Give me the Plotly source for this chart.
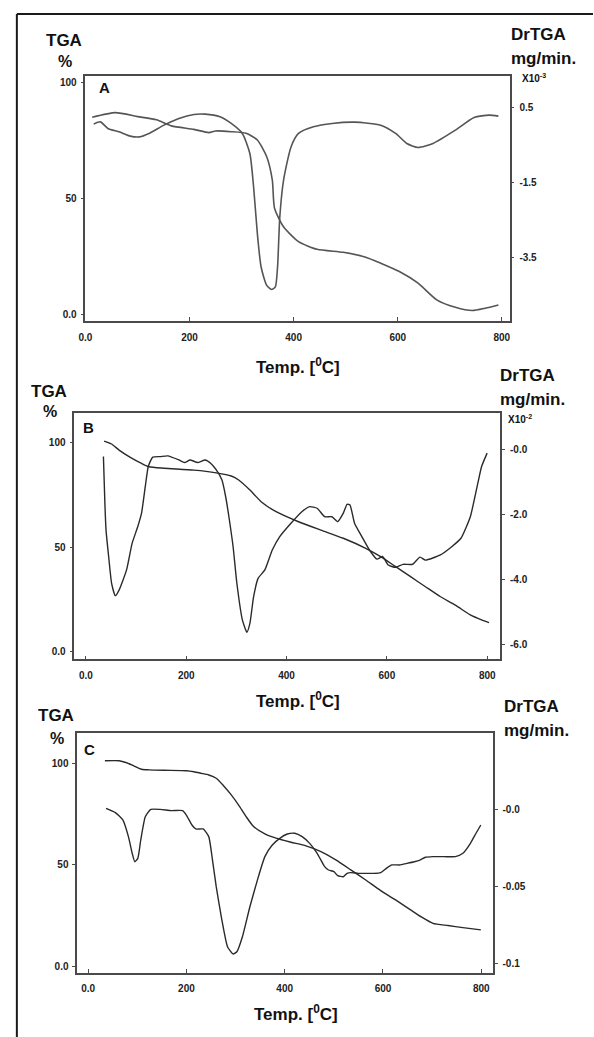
import plotly.graph_objects as go

W, H = 594, 1037

# ---------------- Panel A ----------------
a_tga_t = [13.0, 57.5, 100.6, 136.5, 165.2, 208.3, 236.9, 250.0, 280.1, 308.7, 330.3, 348.3, 359.0, 363.3,
           380.6, 409.4, 445.2, 495.4, 538.5, 567.3, 603.1, 639.1, 674.9, 710.7, 743.2, 768.2, 793.4]
a_tga = [85.2, 87.2, 85.5, 84.1, 81.5, 80.0, 78.6, 79.3, 79.0, 78.3, 75.4, 68.2, 58.2, 46.0,
         38.0, 31.6, 28.3, 27.0, 24.9, 22.3, 18.7, 13.7, 6.5, 3.3, 1.9, 2.9, 4.3]
a_dtg_t = [15.9, 28.8, 43.2, 64.7, 86.2, 104.2, 122.1, 150.8, 179.5, 208.3, 229.9, 258.5, 280.1, 301.5,
           315.9, 323.1, 330.3, 337.5, 348.3, 357.6, 364.8, 369.1, 373.4, 380.6, 395.0, 409.4, 438.0,
           473.9, 517.0, 567.3, 595.9, 617.5, 639.1, 667.7, 710.7, 746.7, 775.4, 793.4]
a_dtg = [0.047, 0.108, -0.068, -0.158, -0.273, -0.292, -0.202, 0.02, 0.198, 0.305, 0.313, 0.242, 0.065, -0.202,
         -0.735, -1.625, -2.87, -3.76, -4.25, -4.36, -4.29, -3.76, -2.43, -1.45, -0.56, -0.2, -0.025,
         0.065, 0.1, 0.02, -0.2, -0.468, -0.575, -0.468, -0.113, 0.225, 0.287, 0.26]

# ---------------- Panel B ----------------
b_tga_t = [36.3, 51.2, 66.1, 88.5, 110.9, 125.8, 155.6, 215.2, 259.9, 289.7, 304.6, 326.9, 349.3, 379.1,
           423.8, 468.4, 513.1, 557.8, 587.6, 617.4, 647.2, 676.9, 706.8, 736.5, 766.3, 788.8, 803.5]
b_tga = [100.8, 99.4, 96.5, 93.0, 90.1, 88.5, 87.8, 86.9, 85.6, 84.1, 82.2, 77.4, 71.8, 67.0,
         62.2, 58.2, 54.3, 49.5, 45.5, 40.7, 35.9, 31.1, 26.3, 22.3, 17.6, 15.2, 13.9]
b_dtg_t = [34.9, 37.8, 40.1, 45.3, 51.2, 58.6, 66.1, 81.0, 92.2, 103.4, 110.9, 118.3, 124.3, 133.2, 148.1,
           163.0, 185.3, 196.5, 207.7, 222.6, 237.5, 248.6, 259.9, 271.0, 278.5, 286.0, 293.4, 300.9,
           312.0, 321.0, 326.9, 334.3, 343.2, 356.7, 371.5, 386.4, 408.8, 431.0, 446.0, 460.9, 475.9,
           490.3, 501.9, 513.1, 520.6, 526.4, 535.5, 550.1, 565.2, 580.1, 591.3, 602.6, 617.4, 632.3,
           651.0, 666.0, 676.9, 706.8, 729.2, 747.7, 766.3, 781.3, 788.8, 799.8]
b_dtg = [-0.227, -1.66, -2.48, -3.29, -4.11, -4.49, -4.32, -3.70, -2.88, -2.37, -1.96, -1.15, -0.53, -0.245, -0.227,
         -0.205, -0.33, -0.41, -0.33, -0.41, -0.33, -0.43, -0.635, -0.94, -1.45, -2.17, -2.99, -4.11,
         -5.24, -5.61, -5.34, -4.52, -3.96, -3.70, -3.09, -2.68, -2.27, -1.91, -1.76, -1.81, -2.07,
         -2.07, -2.22, -1.96, -1.69, -1.71, -2.27, -2.68, -3.09, -3.37, -3.29, -3.55, -3.62, -3.53,
         -3.53, -3.31, -3.40, -3.24, -2.99, -2.73, -2.07, -1.04, -0.53, -0.12]

# ---------------- Panel C ----------------
c_tga_t = [34.0, 62.9, 78.1, 93.4, 108.6, 123.7, 154.2, 199.8, 215.1, 230.3, 245.4, 260.6, 275.9, 291.2,
           306.2, 321.5, 336.7, 359.6, 382.3, 412.9, 443.2, 473.7, 504.0, 534.5, 564.9, 595.4, 625.7,
           656.2, 679.1, 701.8, 732.3, 762.7, 799.2]
c_tga = [101.3, 101.3, 100.3, 98.7, 97.1, 96.8, 96.6, 96.4, 95.9, 95.1, 94.3, 92.7, 88.9, 84.5,
         79.5, 73.8, 68.9, 65.3, 63.2, 61.2, 59.4, 56.6, 52.5, 47.6, 42.6, 37.4, 32.8,
         27.9, 24.3, 21.3, 20.2, 19.2, 18.1]
c_dtg_t = [36.3, 55.3, 70.5, 81.9, 89.6, 94.8, 101.0, 107.0, 116.2, 127.5, 146.6, 169.5, 192.2, 199.8,
           211.2, 218.9, 234.1, 245.4, 253.0, 260.6, 272.1, 283.5, 295.0, 302.6, 313.9, 329.1, 344.4,
           359.6, 374.7, 389.9, 405.2, 420.5, 435.5, 450.8, 466.1, 481.3, 489.0, 500.2, 507.8, 519.3,
           526.9, 534.5, 549.8, 564.9, 580.1, 595.4, 606.8, 618.3, 633.3, 648.6, 663.9, 675.3, 686.5,
           701.8, 724.7, 747.4, 762.7, 778.0, 789.4, 799.2]
c_dtg = [0.0011, -0.0017, -0.0065, -0.0174, -0.0283, -0.0338, -0.0316, -0.0196, -0.0044, 0.0004, 0.0004,
         -0.0004, -0.0004, -0.0033, -0.0098, -0.0124, -0.0124, -0.0174, -0.0327, -0.0501, -0.0719,
         -0.0893, -0.0941, -0.0926, -0.0828, -0.0632, -0.0458, -0.0305, -0.0229, -0.0185, -0.0157,
         -0.0152, -0.0174, -0.0218, -0.0283, -0.0370, -0.0392, -0.0403, -0.0429, -0.0436, -0.0414,
         -0.0409, -0.0414, -0.0414, -0.0414, -0.0409, -0.0381, -0.0359, -0.0359, -0.0349, -0.0338,
         -0.0327, -0.0309, -0.0305, -0.0305, -0.0305, -0.0283, -0.0218, -0.0152, -0.0098]

x_ticks = [0, 200, 400, 600, 800]
x_ticktext = ["0.0", "200", "400", "600", "800"]
tga_ticks = [0, 50, 100]
tga_ticktext = ["0.0", "50", "100"]
a_r_ticks = [0.5, -1.5, -3.5]
a_r_text = ["0.5", "-1.5", "-3.5"]
b_r_ticks = [0, -2, -4, -6]
b_r_text = ["-0.0", "-2.0", "-4.0", "-6.0"]
c_r_ticks = [0, -0.05, -0.1]
c_r_text = ["-0.0", "-0.05", "-0.1"]


def px(x):
    return x / W


def py(y):
    return 1 - y / H


fig = go.Figure()

lineA = dict(color="#555555", width=1.6)
lineB = dict(color="#2a2a2a", width=1.4)

fig.add_trace(go.Scatter(x=a_tga_t, y=a_tga, mode="lines", line=dict(shape="spline", smoothing=0.6, **lineA),
                         xaxis="x", yaxis="y"))
fig.add_trace(go.Scatter(x=a_dtg_t, y=a_dtg, mode="lines", line=dict(shape="spline", smoothing=0.6, **lineA),
                         xaxis="x", yaxis="y2"))
fig.add_trace(go.Scatter(x=b_tga_t, y=b_tga, mode="lines", line=dict(shape="spline", smoothing=0.6, **lineB),
                         xaxis="x2", yaxis="y3"))
fig.add_trace(go.Scatter(x=b_dtg_t, y=b_dtg, mode="lines", line=dict(shape="spline", smoothing=0.5, **lineB),
                         xaxis="x2", yaxis="y4"))
fig.add_trace(go.Scatter(x=c_tga_t, y=c_tga, mode="lines", line=dict(shape="spline", smoothing=0.6, **lineB),
                         xaxis="x3", yaxis="y5"))
fig.add_trace(go.Scatter(x=c_dtg_t, y=c_dtg, mode="lines", line=dict(shape="spline", smoothing=0.5, **lineB),
                         xaxis="x3", yaxis="y6"))

tickfont = dict(family="Liberation Sans, Arial", size=10, color="#222222", weight="bold")
axcol = "#4a4a4a"


def xax(dom, rng, anchor):
    return dict(domain=dom, range=rng, anchor=anchor, showline=True, linecolor=axcol, linewidth=1.5,
                mirror=True, ticks="inside", ticklen=4, tickcolor=axcol, tickwidth=1.2,
                tickvals=x_ticks, ticktext=x_ticktext, tickfont=tickfont, showgrid=False,
                zeroline=False, ticklabelstandoff=6)


def yl(dom, rng, anchor):
    return dict(domain=dom, range=rng, anchor=anchor, showline=True, linecolor=axcol, linewidth=1.5,
                ticks="outside", ticklen=3, tickcolor=axcol, tickwidth=1.2,
                tickvals=tga_ticks, ticktext=tga_ticktext, tickfont=tickfont, showgrid=False,
                zeroline=False, ticklabelstandoff=2)


def yr(over, rng, anchor, tv, tt):
    return dict(overlaying=over, range=rng, anchor=anchor, side="right", showline=True, linecolor=axcol,
                linewidth=1.5, ticks="outside", ticklen=3, tickcolor=axcol, tickwidth=1.2,
                tickvals=tv, ticktext=tt, tickfont=tickfont, showgrid=False, zeroline=False,
                ticklabelstandoff=3)


domA_x = [px(79.5), px(509.5)]
domA_y = [py(321), py(76)]
domB_x = [px(68.2), px(500)]
domB_y = [py(659.3), py(413.3)]
domC_x = [px(71.2), px(492.4)]
domC_y = [py(972.7), py(733.3)]

fig.update_layout(
    width=W, height=H, margin=dict(l=0, r=0, t=0, b=0),
    paper_bgcolor="white", plot_bgcolor="white", showlegend=False,
    xaxis=xax(domA_x, [0, 815], "y"),
    yaxis=yl(domA_y, [-2.6, 103], "x"),
    yaxis2=yr("y", [-5.2, 1.33], "x", a_r_ticks, a_r_text),
    xaxis2=xax(domB_x, [-23.2, 826], "y3"),
    yaxis3=yl(domB_y, [-3.64, 114.1], "x2"),
    yaxis4=yr("y3", [-6.44, 1.10], "x2", b_r_ticks, b_r_text),
    xaxis3=xax(domC_x, [-22.3, 823.5], "y5"),
    yaxis5=yl(domC_y, [-3.0, 114.8], "x3"),
    yaxis6=yr("y5", [-0.1063, 0.0501], "x3", c_r_ticks, c_r_text),
)

big = dict(family="Liberation Sans, Arial", size=17, color="#111111", weight="bold")
mid = dict(family="Liberation Sans, Arial", size=16, color="#111111", weight="bold")
small = dict(family="Liberation Sans, Arial", size=10, color="#111111", weight="bold")
letter = dict(family="Liberation Sans, Arial", size=15, color="#111111", weight="bold")

labels = [
    # Panel A
    ("TGA", 58, 40, big, "center"), ("%", 59, 61, mid, "center"),
    ("DrTGA", 509, 34, big, "left"), ("mg/min.", 509, 58, big, "left"),
    ("X10<sup>-3</sup>", 520, 78, small, "left"), ("A", 99, 88, letter, "center"),
    ("Temp. [<sup>0</sup>C]", 295, 366, big, "center"),
    # Panel B
    ("TGA", 43, 391, big, "center"), ("%", 44, 412, mid, "center"),
    ("DrTGA", 498, 375, big, "left"), ("mg/min.", 498, 399, big, "left"),
    ("X10<sup>-2</sup>", 506, 419, small, "left"), ("B", 83, 427, letter, "center"),
    ("Temp. [<sup>0</sup>C]", 295, 700, big, "center"),
    # Panel C
    ("TGA", 50, 715, big, "center"), ("%", 51, 738, mid, "center"),
    ("DrTGA", 502, 706, big, "left"), ("mg/min.", 502, 730, big, "left"),
    ("C", 84, 749, letter, "center"),
    ("Temp. [<sup>0</sup>C]", 293, 1013, big, "center"),
]
for txt, x, y, f, anc in labels:
    fig.add_annotation(text=txt, x=px(x), y=py(y), xref="paper", yref="paper", showarrow=False,
                       xanchor=anc, yanchor="middle", font=f)

# outer frame (top and left edges)
fig.add_shape(type="line", xref="paper", yref="paper", x0=px(10), x1=1, y0=py(14), y1=py(14),
              line=dict(color="#1a1a1a", width=2))
fig.add_shape(type="line", xref="paper", yref="paper", x0=px(10), x1=px(10), y0=0, y1=py(14),
              line=dict(color="#1a1a1a", width=2))

fig.write_html("out.html")
